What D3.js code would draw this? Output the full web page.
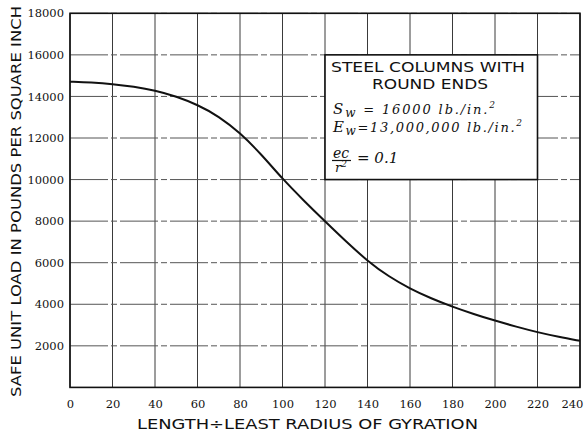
<!DOCTYPE html>
<html>
<head>
<meta charset="utf-8">
<script src="https://cdn.jsdelivr.net/npm/d3@7"></script>
<style>
  html, body { margin: 0; padding: 0; background: #fff; }
  svg { display: block; }
</style>
</head>
<body>
<svg id="chart" width="584" height="432"></svg>
<script>
// ---- data ----
const slenderness = [0,10,20,30,40,50,60,70,80,90,100,110,120,130,140,150,160,170,180,190,200,210,220,230,240];
const safeLoad    = [14710,14670,14600,14470,14290,14000,13600,13050,12250,11220,10030,8990,7990,7010,6080,5330,4750,4280,3880,3530,3210,2920,2650,2430,2240];
const xTickValues = [0,20,40,60,80,100,120,140,160,180,200,220,240];
const yTickValues = [2000,4000,6000,8000,10000,12000,14000,16000,18000];
const xTitle = "LENGTH÷LEAST RADIUS OF GYRATION";
const yTitle = "SAFE UNIT LOAD IN POUNDS PER SQUARE INCH";
const legendTitle = ["STEEL COLUMNS WITH", "ROUND ENDS"];
const legendBox = {x0: 120, x1: 220, y0: 16000, y1: 10000};

const svg = d3.select("#chart");
const L = 70, R = 580, T = 13.3, B = 387.4;
const x = d3.scaleLinear().domain([0, 240]).range([L, R]);
const y = d3.scaleLinear().domain([0, 18000]).range([B, T]);

// grid
const g = svg.append("g");
g.selectAll("line.v").data(xTickValues).join("line")
  .attr("x1", d => x(d)).attr("x2", d => x(d))
  .attr("y1", T).attr("y2", B)
  .attr("stroke", "#3a3a3a").attr("stroke-width", 1);
g.selectAll("line.h").data(yTickValues).join("line")
  .attr("x1", L).attr("x2", R)
  .attr("y1", d => y(d)).attr("y2", d => y(d))
  .attr("stroke", "#555").attr("stroke-width", 1)
  .attr("stroke-dasharray", "38,3,6,3");

// frame
svg.append("rect").attr("x", L).attr("y", T).attr("width", R - L).attr("height", B - T)
  .attr("fill", "none").attr("stroke", "#111").attr("stroke-width", 1.6);

// axes tick labels
const xAxis = d3.axisBottom(x).tickValues(xTickValues).tickSize(0).tickPadding(12).tickFormat(d3.format("d"));
const xa = svg.append("g").attr("transform", `translate(0,${B})`).call(xAxis);
xa.select(".domain").remove();
xa.selectAll("text").attr("font-family", "'DejaVu Serif', serif").attr("font-size", 11.5).attr("fill", "#111")
  .filter(d => d === 240).attr("text-anchor", "end").attr("dx", "0.25em");

const yAxis = d3.axisLeft(y).tickValues(yTickValues).tickSize(0).tickPadding(6).tickFormat(d3.format("d"));
const ya = svg.append("g").attr("transform", `translate(${L},0)`).call(yAxis);
ya.select(".domain").remove();
ya.selectAll("text").attr("font-family", "'DejaVu Serif', serif").attr("font-size", 11.5).attr("fill", "#111");

// curve
const line = d3.line().x((d, i) => x(slenderness[i])).y(d => y(d)).curve(d3.curveBasis);
svg.append("path").datum(safeLoad).attr("d", line)
  .attr("fill", "none").attr("stroke", "#111").attr("stroke-width", 2);

// titles
svg.append("text").attr("x", 137).attr("y", 429)
  .attr("font-family", "'DejaVu Sans', sans-serif").attr("font-size", 14.5).attr("fill", "#111")
  .attr("textLength", 341).attr("lengthAdjust", "spacingAndGlyphs")
  .text(xTitle);
svg.append("text").attr("transform", "translate(21,397) rotate(-90)")
  .attr("font-family", "'DejaVu Sans', sans-serif").attr("font-size", 14.5).attr("fill", "#111")
  .attr("textLength", 391).attr("lengthAdjust", "spacingAndGlyphs")
  .text(yTitle);

// legend box
const lx0 = x(legendBox.x0), lx1 = x(legendBox.x1), ly0 = y(legendBox.y0), ly1 = y(legendBox.y1);
svg.append("rect").attr("x", lx0).attr("y", ly0).attr("width", lx1 - lx0).attr("height", ly1 - ly0)
  .attr("fill", "#fff").attr("stroke", "#111").attr("stroke-width", 1.6);

svg.append("text").attr("x", 428).attr("y", 72).attr("text-anchor", "middle")
  .attr("font-family", "'DejaVu Sans', sans-serif").attr("font-size", 13.5).attr("fill", "#111")
  .attr("textLength", 194).attr("lengthAdjust", "spacingAndGlyphs")
  .text(legendTitle[0]);
svg.append("text").attr("x", 430).attr("y", 88.5).attr("text-anchor", "middle")
  .attr("font-family", "'DejaVu Sans', sans-serif").attr("font-size", 13.5).attr("fill", "#111")
  .attr("textLength", 116).attr("lengthAdjust", "spacingAndGlyphs")
  .text(legendTitle[1]);

const mathFont = "'DejaVu Serif', serif";
function mathLine(yy, main, sub, mid, unit, len) {
  const t = svg.append("text").attr("x", 333).attr("y", yy)
    .attr("font-family", mathFont).attr("font-style", "italic").attr("font-size", 15).attr("fill", "#111")
    .attr("textLength", len).attr("lengthAdjust", "spacing");
  t.append("tspan").text(main);
  t.append("tspan").attr("dy", 3).attr("font-size", 12).text(sub);
  t.append("tspan").attr("dy", -3).attr("font-size", 13).text(mid);
  t.append("tspan").attr("font-size", 13).text(unit);
  t.append("tspan").attr("dy", -6).attr("font-size", 9).text("2");
  return t;
}
mathLine(114, "S", "w", " = 16000", "  lb./in.", 162);
mathLine(131.5, "E", "w", "=13,000,000", "  lb./in.", 189);

// fraction ec / r^2 = 0.1
svg.append("text").attr("x", 341).attr("y", 157.5).attr("text-anchor", "middle")
  .attr("font-family", mathFont).attr("font-style", "italic").attr("font-size", 14).attr("fill", "#111")
  .text("ec");
svg.append("line").attr("x1", 332).attr("x2", 351).attr("y1", 160.5).attr("y2", 160.5)
  .attr("stroke", "#111").attr("stroke-width", 1.2);
const r2 = svg.append("text").attr("x", 341).attr("y", 172).attr("text-anchor", "middle")
  .attr("font-family", mathFont).attr("font-style", "italic").attr("font-size", 13).attr("fill", "#111");
r2.append("tspan").text("r");
r2.append("tspan").attr("dy", -5).attr("font-size", 9).text("2");
svg.append("text").attr("x", 357).attr("y", 163)
  .attr("font-family", mathFont).attr("font-style", "italic").attr("font-size", 15).attr("fill", "#111")
  .text("=  0.1");
</script>
</body>
</html>
